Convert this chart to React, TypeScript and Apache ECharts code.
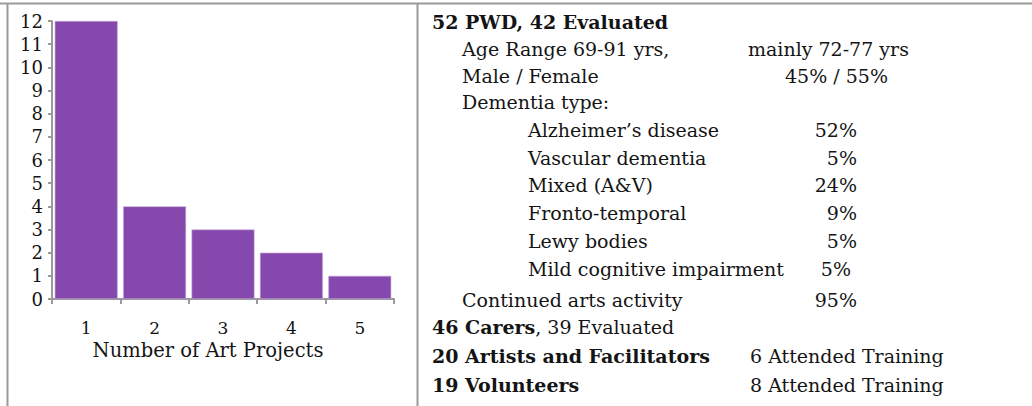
import React, { useEffect, useRef } from "react";
import * as echarts from "echarts";

const categories = ["1", "2", "3", "4", "5"];
const counts = [12, 4, 3, 2, 1];
const yTicks = { min: 0, max: 12, interval: 1 };

const FONT = "DejaVu Serif";
const TEXT_COLOR = "#141414";
const BAR_COLOR = "#8549ad";
const LINE_COLOR = "#9a9a9a";

const headerPWD = "52 PWD, 42 Evaluated";
const ageLabel = "Age Range 69-91 yrs,";
const ageValue = "mainly 72-77 yrs";
const sexLabel = "Male / Female";
const sexValue = "45% / 55%";
const dementiaHeader = "Dementia type:";
const dementiaTypes = [
  "Alzheimer\u2019s disease",
  "Vascular dementia",
  "Mixed (A&V)",
  "Fronto-temporal",
  "Lewy bodies",
  "Mild cognitive impairment",
];
const dementiaPct = ["52%", "5%", "24%", "9%", "5%", "5%"];
const continuedLabel = "Continued arts activity";
const continuedPct = "95%";
const carersBold = "46 Carers";
const carersRest = ", 39 Evaluated";
const artistsLabel = "20 Artists and Facilitators";
const artistsValue = "6 Attended Training";
const volunteersLabel = "19 Volunteers";
const volunteersValue = "8 Attended Training";

function txt(x: number, y: number, text: string, opts: any = {}) {
  return {
    type: "text",
    x,
    y,
    style: {
      text,
      fontFamily: FONT,
      fontSize: 19,
      fontWeight: opts.bold ? "bold" : "normal",
      fill: TEXT_COLOR,
      align: opts.align || "left",
      verticalAlign: "middle",
      rich: opts.rich,
    },
  };
}

export default function App() {
  const ref = useRef<HTMLDivElement>(null);
  useEffect(() => {
    if (!ref.current) return;
    const chart = echarts.init(ref.current, null, { renderer: "svg" });
    const dRows = [130, 158, 185, 213, 241, 269];
    const graphics: any[] = [
      { type: "line", shape: { x1: 0, y1: 3.5, x2: 1032, y2: 3.5 }, style: { stroke: LINE_COLOR, lineWidth: 2 } },
      { type: "line", shape: { x1: 7.5, y1: 3, x2: 7.5, y2: 406 }, style: { stroke: LINE_COLOR, lineWidth: 2 } },
      { type: "line", shape: { x1: 417.5, y1: 3, x2: 417.5, y2: 406 }, style: { stroke: LINE_COLOR, lineWidth: 2 } },
      txt(432, 22, headerPWD, { bold: true }),
      txt(462, 49, ageLabel),
      txt(748, 49, ageValue),
      txt(462, 76, sexLabel),
      txt(785, 76, sexValue),
      txt(462, 102, dementiaHeader),
    ];
    dementiaTypes.forEach((d, i) => {
      graphics.push(txt(528, dRows[i], d));
      graphics.push(txt(i === 5 ? 851 : 857, dRows[i], dementiaPct[i], { align: "right" }));
    });
    graphics.push(txt(462, 300, continuedLabel));
    graphics.push(txt(857, 300, continuedPct, { align: "right" }));
    graphics.push(
      txt(432, 327, "{b|" + carersBold + "}" + carersRest, {
        rich: { b: { fontFamily: FONT, fontSize: 19, fontWeight: "bold", fill: TEXT_COLOR } },
      })
    );
    graphics.push(txt(432, 356, artistsLabel, { bold: true }));
    graphics.push(txt(750, 356, artistsValue));
    graphics.push(txt(432, 385, volunteersLabel, { bold: true }));
    graphics.push(txt(750, 385, volunteersValue));

    chart.setOption({
      animation: false,
      grid: { left: 52, right: 638, top: 21, bottom: 107, containLabel: false },
      xAxis: {
        type: "category",
        data: categories,
        name: "Number of Art Projects",
        nameLocation: "middle",
        nameGap: 40,
        nameTextStyle: { fontFamily: FONT, fontSize: 19.5, color: TEXT_COLOR, padding: [0, 30, 0, 0] },
        axisLine: { lineStyle: { color: LINE_COLOR, width: 2 } },
        axisTick: { show: true, alignWithLabel: false, length: 5, lineStyle: { color: LINE_COLOR, width: 2 } },
        axisLabel: { fontFamily: FONT, fontSize: 17, color: TEXT_COLOR, margin: 20 },
      },
      yAxis: {
        type: "value",
        min: yTicks.min,
        max: yTicks.max,
        interval: yTicks.interval,
        splitLine: { show: false },
        axisLine: { show: true, lineStyle: { color: LINE_COLOR, width: 2 } },
        axisTick: { show: true, length: 4, lineStyle: { color: LINE_COLOR, width: 2 } },
        axisLabel: { fontFamily: FONT, fontSize: 18, color: TEXT_COLOR, margin: 9 },
      },
      series: [
        {
          type: "bar",
          data: counts,
          barCategoryGap: "8%",
          itemStyle: { color: BAR_COLOR, borderColor: "#c7a9dc", borderWidth: 0.6 },
        },
      ],
      graphic: graphics,
    });
    return () => chart.dispose();
  }, []);
  return <div ref={ref} style={{ position: "absolute", left: 0, top: 0, width: 1032, height: 406 }} />;
}
